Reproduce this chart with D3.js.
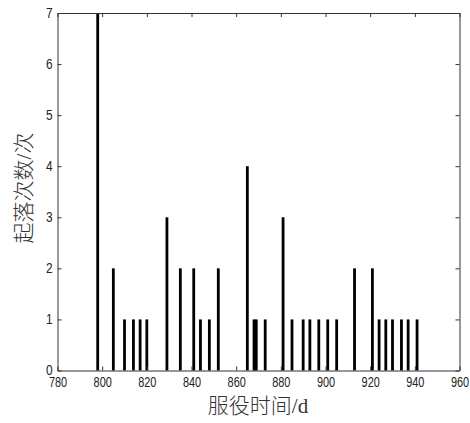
<!DOCTYPE html>
<html><head><meta charset="utf-8">
<script src="https://cdn.jsdelivr.net/npm/d3@7"></script>
<style>
html,body{margin:0;padding:0;background:#fff;}
svg{display:block;}
.tick text{font-family:"Liberation Sans Narrow","Liberation Sans",Arial,sans-serif;font-size:14px;fill:#222;}
.lab{font-family:'Liberation Serif','Noto Sans CJK SC',serif;font-size:21px;font-weight:300;fill:#333;}
</style></head>
<body><svg id="c" width="470" height="423"></svg>
<script>
// Data
const days   = [798, 805, 810, 814, 817, 820, 829, 835, 841, 844, 848, 852, 865, 868, 869, 873, 881, 885, 890, 893, 897, 901, 905, 913, 921, 924, 927, 930, 934, 937, 941];
const counts = [7,   2,   1,   1,   1,   1,   3,   2,   2,   1,   1,   2,   4,   1,   1,   1,   3,   1,   1,   1,   1,   1,   1,   2,   2,   1,   1,   1,   1,   1,   1];
const xTicks = [780, 800, 820, 840, 860, 880, 900, 920, 940, 960];
const yTicks = [0, 1, 2, 3, 4, 5, 6, 7];
const xLabel = "服役时间/d";
const yLabel = "起落次数/次";

const svg = d3.select("#c");
const L = 57.5, R = 459.5, T = 13, B = 370.5;
const x = d3.scaleLinear().domain([780, 960]).range([L, R]);
const y = d3.scaleLinear().domain([0, 7]).range([B, T]);
const barW = 2.8;

svg.append("g").selectAll("rect").data(days.map((d,i)=>({d, v:counts[i]})))
  .enter().append("rect")
  .attr("x", d => x(d.d) - barW/2)
  .attr("y", d => y(d.v))
  .attr("width", barW)
  .attr("height", d => y(0) - y(d.v))
  .attr("fill", "#000");

function styleAxis(g){
  g.selectAll("path.domain").attr("stroke","#333").attr("stroke-width",1);
  g.selectAll(".tick line").attr("stroke","#333");
}
svg.append("g").attr("transform",`translate(0,${B})`)
  .call(d3.axisBottom(x).tickValues(xTicks).tickSizeInner(-4).tickSizeOuter(0).tickPadding(7).tickFormat(d3.format("d")))
  .call(styleAxis)
  .call(g => g.selectAll(".tick text").attr("transform","scale(0.78,1)"));
svg.append("g").attr("transform",`translate(0,${T})`)
  .call(d3.axisTop(x).tickValues(xTicks).tickSizeInner(-4).tickSizeOuter(0).tickFormat(""))
  .call(styleAxis);
svg.append("g").attr("transform",`translate(${L},0)`)
  .call(d3.axisLeft(y).tickValues(yTicks).tickSizeInner(-4).tickSizeOuter(0).tickPadding(4).tickFormat(d3.format("d")))
  .call(styleAxis)
  .call(g => g.selectAll(".tick text").attr("transform","scale(0.85,1)").attr("x", -5/0.85));
svg.append("g").attr("transform",`translate(${R},0)`)
  .call(d3.axisRight(y).tickValues(yTicks).tickSizeInner(-4).tickSizeOuter(0).tickFormat(""))
  .call(styleAxis);

svg.append("text").attr("class","lab").attr("x", 258).attr("y", 413)
  .attr("text-anchor","middle")
  .text(xLabel);
svg.append("text").attr("class","lab").attr("transform",`translate(31,188) rotate(-90)`)
  .attr("text-anchor","middle")
  .text(yLabel);
</script></body></html>
